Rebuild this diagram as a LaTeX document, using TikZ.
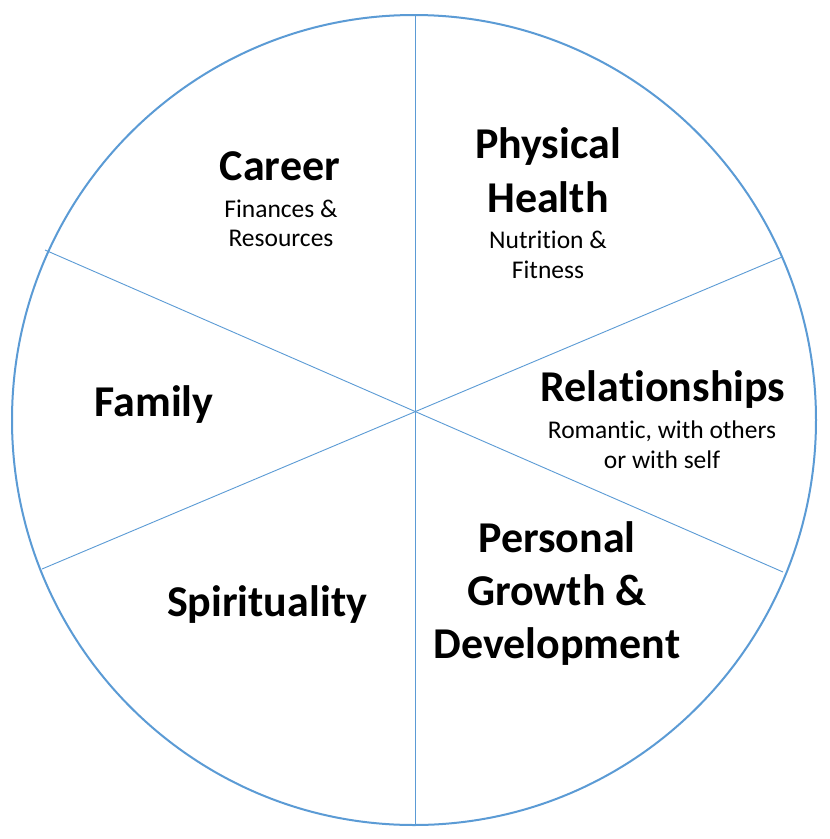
\documentclass[tikz,border=0pt]{standalone}
\usepackage{fontspec}
\setmainfont{Carlito}[Ligatures=NoCommon]
\definecolor{wheelblue}{HTML}{5B9BD5}
\begin{document}
\begin{tikzpicture}[x=1pt,y=-1pt,
  rim/.style={draw=wheelblue,line width=2pt},
  spoke/.style={draw=wheelblue,line width=0.9pt},
  big/.style={anchor=base,inner sep=0pt,font=\fontsize{44}{52}\selectfont\bfseries},
  small/.style={anchor=base,inner sep=0pt,font=\fontsize{25.5}{30}\selectfont}]
\useasboundingbox[fill=white] (0,0) rectangle (830,839);
\draw[rim] (414,420) ellipse [x radius=402, y radius=405];
\coordinate (top) at (415,15);
\coordinate (bot) at (415,825);
\coordinate (ul) at (45,250);
\coordinate (lr) at (783,572);
\coordinate (ll) at (42,569);
\coordinate (ur) at (782,257);
\draw[spoke] (top) -- (bot);
\draw[spoke] (ul) -- (lr);
\draw[spoke] (ll) -- (ur);
% Career
\node[big] (career) at (280,180) {Career};
\node[small] (career1) at (281,217) {Finances \&};
\node[small] (career2) at (281,246) {Resources};
% Physical Health
\node[big] (phys1) at (548,158) {Physical};
\node[big] (phys2) at (548,212) {Health};
\node[small] (phys3) at (548,248) {Nutrition \&};
\node[small] (phys4) at (548,278) {Fitness};
% Family
\node[big] (family) at (154,416) {Family};
% Relationships
\node[big] (rel) at (663,401) {Relationships};
\node[small] (rel1) at (662,438) {Romantic, with others};
\node[small] (rel2) at (662,468) {or with self};
% Spirituality
\node[big] (spir) at (267,616) {Spirituality};
% Personal Growth
\node[big] (pg1) at (557,552) {Personal};
\node[big] (pg2) at (557,605) {Growth \&};
\node[big] (pg3) at (557,658) {Development};
\end{tikzpicture}
\end{document}
